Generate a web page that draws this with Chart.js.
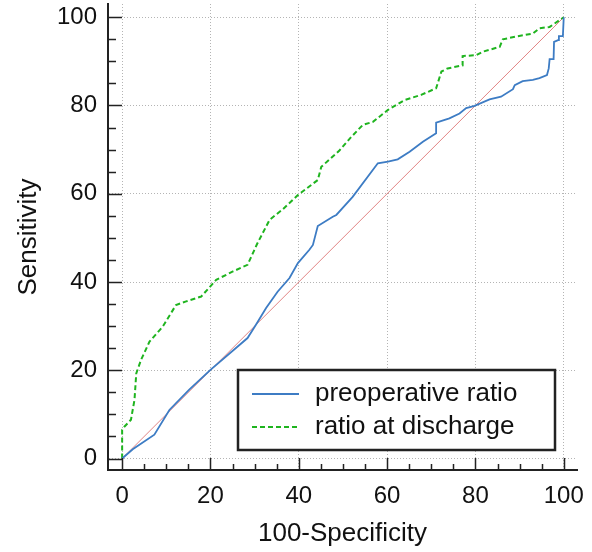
<!DOCTYPE html>
<html>
<head>
<meta charset="utf-8">
<script src="https://cdn.jsdelivr.net/npm/chart.js@4"></script>
<style>
html,body{margin:0;padding:0;background:#fff;}
#wrap{width:592px;height:552px;}
</style>
</head>
<body>
<div id="wrap"><canvas id="c" width="592" height="552"></canvas></div>
<script>
// Data
const preopX = [0, 2.4, 7.3, 10.7, 15.2, 20, 28.4, 30.3, 32.6, 35.2, 37.9, 39.8, 42.4, 43.2, 44.3, 47.7, 48.5, 52.2, 57.9, 60.2, 62.4, 65.1, 68.1, 71.1, 71.1, 74.1, 76.4, 77.9, 79.8, 83.2, 85.8, 88.5, 88.9, 90.7, 93, 94.5, 96.2, 96.6, 96.8, 97.7, 97.8, 98.7, 98.9, 99.8, 100];
const preopY = [0, 2.1, 5.4, 11, 15.6, 20.1, 27.3, 30.3, 34.1, 37.8, 40.9, 44.3, 47.3, 48.4, 52.7, 54.8, 55.2, 59.3, 66.9, 67.3, 67.8, 69.5, 71.8, 73.7, 76.1, 77.1, 78.2, 79.4, 79.9, 81.4, 82, 83.7, 84.6, 85.5, 85.8, 86.2, 86.9, 88.4, 90.5, 90.5, 94.4, 94.8, 95.7, 95.7, 100];
const dischX = [0, 0, 0.5, 2, 2.8, 3.2, 4.3, 6.2, 9.2, 12.2, 14.5, 17.9, 21.3, 25.1, 28.4, 30.5, 33.4, 36.4, 39.8, 44.3, 45.1, 49.2, 51.9, 54.5, 56.8, 60.2, 63.9, 67.7, 71.1, 72.3, 73.7, 77.1, 77.1, 80.2, 81.7, 85.5, 86.2, 89.6, 93, 94.5, 96.8, 100];
const dischY = [0, 6.5, 7.2, 8.8, 13.3, 19.3, 22.4, 26.5, 29.9, 34.8, 35.6, 36.7, 40.5, 42.4, 43.9, 48.5, 54.1, 56.5, 59.7, 63.1, 66.1, 69.8, 72.9, 75.6, 76.3, 79, 81.2, 82.4, 83.9, 87.7, 88.4, 89.1, 91.2, 91.4, 92.2, 93.3, 95, 95.7, 96.3, 97.5, 97.8, 100];
const diagX = [0, 100];
const diagY = [0, 100];
const seriesNames = ['preoperative ratio', 'ratio at discharge'];
const tickValues = [0, 20, 40, 60, 80, 100];
const minorStep = 5;

const FONT = '"Liberation Sans", Arial, sans-serif';
const toPts = (xs, ys) => xs.map((x, i) => ({x: x, y: ys[i]}));

const tickPlugin = {
  id: 'inwardTicks',
  afterDatasetsDraw(chart) {
    const ctx = chart.ctx;
    const xs = chart.scales.x, ys = chart.scales.y;
    const ca = chart.chartArea;
    ctx.save();
    ctx.strokeStyle = '#222';
    ctx.lineWidth = 1.5;
    ctx.beginPath();
    for (let v = 0; v <= 100; v += minorStep) {
      const major = tickValues.includes(v);
      const px = Math.round(xs.getPixelForValue(v)) + 0.5;
      const lenX = major ? 12 : 6;
      ctx.moveTo(px, ca.bottom);
      ctx.lineTo(px, ca.bottom - lenX);
      const py = Math.round(ys.getPixelForValue(v)) + 0.5;
      const lenY = major ? 14 : 8;
      ctx.moveTo(ca.left, py);
      ctx.lineTo(ca.left + lenY, py);
    }
    ctx.stroke();
    ctx.restore();
  },
  afterDraw(chart) {
    const ctx = chart.ctx;
    const ds = chart.data.datasets;
    ctx.save();
    const bx = 238, by = 370, bw = 317, bh = 80;
    ctx.fillStyle = '#fff';
    ctx.fillRect(bx, by, bw, bh);
    ctx.lineWidth = 2.5;
    ctx.strokeStyle = '#222';
    ctx.strokeRect(bx, by, bw, bh);
    const rows = [394, 427];
    for (let i = 0; i < 2; i++) {
      ctx.beginPath();
      ctx.strokeStyle = ds[i].borderColor;
      ctx.lineWidth = ds[i].borderWidth;
      ctx.setLineDash(ds[i].borderDash || []);
      ctx.moveTo(252, rows[i]);
      ctx.lineTo(299, rows[i]);
      ctx.stroke();
      ctx.setLineDash([]);
      ctx.fillStyle = '#111';
      ctx.font = '26px ' + FONT;
      ctx.textBaseline = 'middle';
      ctx.textAlign = 'left';
      ctx.fillText(ds[i].label, 315, rows[i]);
    }
    ctx.restore();
  }
};

const setTicks = (scale) => { scale.ticks = tickValues.map(v => ({value: v})); };

new Chart(document.getElementById('c'), {
  type: 'scatter',
  data: {
    datasets: [
      {label: seriesNames[0], data: toPts(preopX, preopY), showLine: true, borderColor: '#3d7cc4', borderWidth: 1.8, pointRadius: 0, tension: 0, fill: false},
      {label: seriesNames[1], data: toPts(dischX, dischY), showLine: true, borderColor: '#1fb41f', borderWidth: 2, borderDash: [5, 3], pointRadius: 0, tension: 0, fill: false},
      {label: 'reference', data: toPts(diagX, diagY), showLine: true, borderColor: 'rgba(220,110,110,0.85)', borderWidth: 1, pointRadius: 0, fill: false}
    ]
  },
  options: {
    responsive: false,
    animation: false,
    devicePixelRatio: 1,
    layout: {padding: {top: 4, right: 15, left: 0, bottom: 0}},
    plugins: {legend: {display: false}, tooltip: {enabled: false}},
    scales: {
      x: {
        type: 'linear', min: -3.2, max: 103,
        afterBuildTicks: setTicks,
        afterFit: (s) => { s.height = 82; s.paddingLeft = 0; s.paddingRight = 0; },
        grid: {color: '#b4b4b4', lineWidth: 1, drawTicks: false},
        border: {display: true, color: '#222', width: 2, dash: [1, 2]},
        ticks: {color: '#111', font: {family: FONT, size: 24}, padding: 12, maxRotation: 0, autoSkip: false},
        title: {display: true, text: '100-Specificity', color: '#111', font: {family: FONT, size: 26}, padding: {top: 0, bottom: 3}}
      },
      y: {
        type: 'linear', min: -2.6, max: 103,
        afterBuildTicks: setTicks,
        afterFit: (s) => { s.width = 108; s.paddingTop = 0; s.paddingBottom = 0; },
        grid: {color: '#b4b4b4', lineWidth: 1, drawTicks: false},
        border: {display: true, color: '#222', width: 2, dash: [1, 2]},
        ticks: {color: '#111', font: {family: FONT, size: 24}, padding: 11, autoSkip: false},
        title: {display: true, text: 'Sensitivity', color: '#111', font: {family: FONT, size: 26}, padding: {top: 13, bottom: 0}}
      }
    }
  },
  plugins: [tickPlugin]
});
</script>
</body>
</html>
